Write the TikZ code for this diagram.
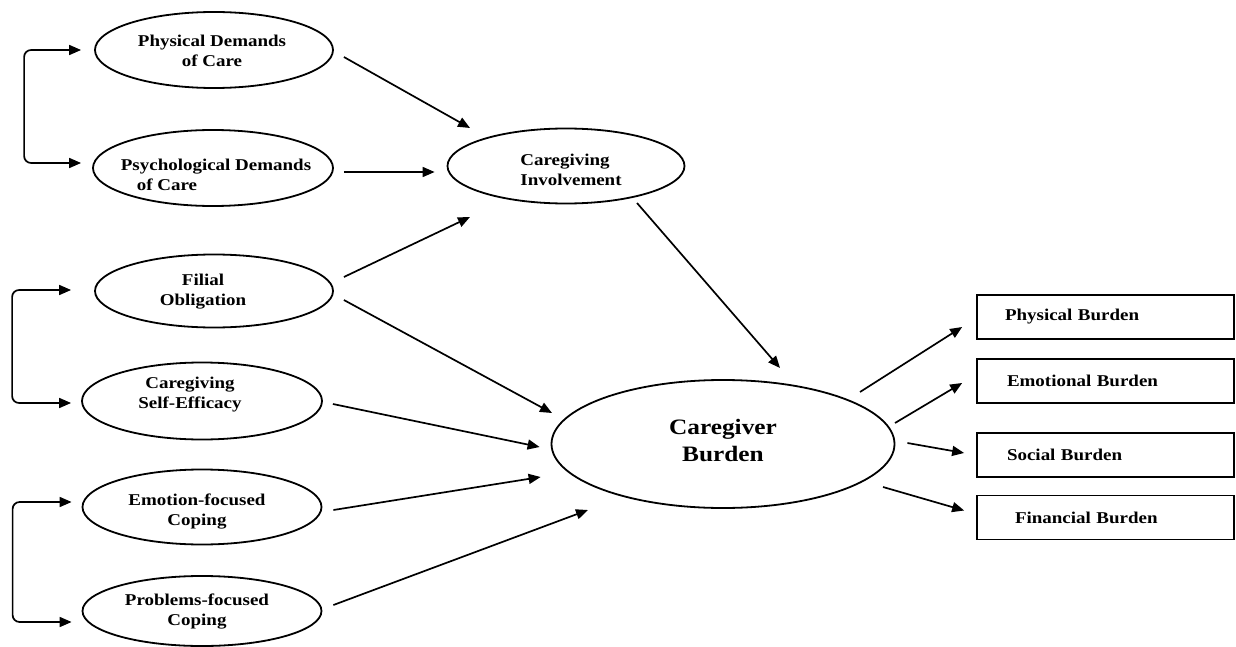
\documentclass[tikz,border=0pt]{standalone}
\usepackage{fontspec}
\setmainfont{Liberation Serif}[FakeStretch=1.15]
\usetikzlibrary{arrows.meta,calc,shapes.geometric}

\begin{document}
\begin{tikzpicture}[x=1pt,y=-1pt,
  line width=1.7pt,
  ell/.style={draw, ellipse, inner sep=0pt, line width=1.8pt},
  lbl/.style={font=\fontsize{16.5}{20}\selectfont\bfseries, align=center, inner sep=0pt},
  biglbl/.style={font=\fontsize{22}{27}\selectfont\bfseries, align=center, inner sep=0pt},
  box/.style={draw, rectangle, minimum width=257pt, minimum height=44pt,
    text width=201pt, inner xsep=28pt, inner ysep=0pt, align=left,
    font=\fontsize{16.5}{20}\selectfont\bfseries, line width=1.7pt},
  tip/.tip={Triangle[length=12pt,width=10pt]},
  arr/.style={-tip},
  link/.style={tip-tip, rounded corners=7pt}]

\useasboundingbox (0,0) rectangle (1236,647);

% exogenous variables
\node[ell, minimum width=238pt, minimum height=76pt] (pd)  at (214,50)  {};
\node[ell, minimum width=240pt, minimum height=76pt] (psy) at (213,168) {};
\node[ell, minimum width=238pt, minimum height=73pt] (fo)  at (214,291) {};
\node[ell, minimum width=240pt, minimum height=77pt] (se)  at (202,401) {};
\node[ell, minimum width=239pt, minimum height=75pt] (ef)  at (202,507) {};
\node[ell, minimum width=239pt, minimum height=70pt] (pf)  at (202,611) {};

\node[lbl] (pd-l)  at (212,51)  {Physical Demands\\of Care};
\node[lbl, align=left] (psy-l) at (216,175) {Psychological Demands\\\hspace*{16pt}of Care};
\node[lbl] (fo-l)  at (203,292) {Filial\\Obligation};
\node[lbl] (se-l)  at (190,395) {Caregiving\\Self-Efficacy};
\node[lbl] (ef-l)  at (197,512) {Emotion-focused\\Coping};
\node[lbl] (pf-l)  at (197,612) {Problems-focused\\Coping};

% mediator and outcome
\node[ell, minimum width=237pt, minimum height=75pt] (ci) at (566,166) {};
\node[lbl, align=left] (ci-l) at (571,170) {Caregiving\\Involvement};

\node[ell, minimum width=343pt, minimum height=128pt] (cb) at (723,444) {};
\node[biglbl] (cb-l) at (723,440) {Caregiver\\Burden};

% burden indicators
\node[box] (b1) at (1105.5,317)   {Physical Burden};
\node[box] (b2) at (1105.5,381)   {\hspace*{2pt}Emotional Burden};
\node[box] (b3) at (1105.5,455)   {\hspace*{2pt}Social Burden};
\node[box] (b4) at (1105.5,517.5) {\hspace*{10pt}Financial Burden};

% correlations among exogenous variables
\draw[link] ($(pd.west)+(-13,0)$) -| ($(psy.west)+(-68,-5)$) -- ($(psy.west)+(-11,-5)$);
\draw[link] ($(fo.west)+(-23,-1)$) -| ($(se.west)+(-69,2)$) -- ($(se.west)+(-10,2)$);
\draw[link] ($(ef.west)+(-10,-5)$) -| ($(pf.west)+(-69,11)$) -- ($(pf.west)+(-10,11)$);

% paths to caregiving involvement
\draw[arr] ($(pd.east)+(10,7)$)   -- ($(ci.center)+(-96,-38)$);
\draw[arr] ($(psy.east)+(10,4)$)  -- ($(ci.west)+(-12,6)$);
\draw[arr] ($(fo.east)+(10,-14)$) -- ($(ci.center)+(-96,51)$);

% paths to caregiver burden
\draw[arr] ($(fo.east)+(10,9)$)   -- ($(cb.center)+(-171,-31)$);
\draw[arr] ($(se.east)+(10,3)$)   -- ($(cb.west)+(-11,3)$);
\draw[arr] ($(ef.east)+(11,3)$)   -- ($(cb.west)+(-10,33)$);
\draw[arr] ($(pf.east)+(11,-6)$)  -- ($(cb.center)+(-135,66)$);
\draw[arr] ($(ci.center)+(71,37)$) -- ($(cb.center)+(57,-76)$);

% burden to its indicators
\draw[arr] ($(cb.center)+(137,-52)$) -- ($(b1.west)+(-14,10)$);
\draw[arr] ($(cb.center)+(172,-21)$) -- ($(b2.west)+(-14,2)$);
\draw[arr] ($(cb.east)+(12,-1)$)     -- ($(b3.west)+(-12,-2)$);
\draw[arr] ($(cb.center)+(160,43)$)  -- ($(b4.west)+(-12,-7)$);

\end{tikzpicture}
\end{document}
